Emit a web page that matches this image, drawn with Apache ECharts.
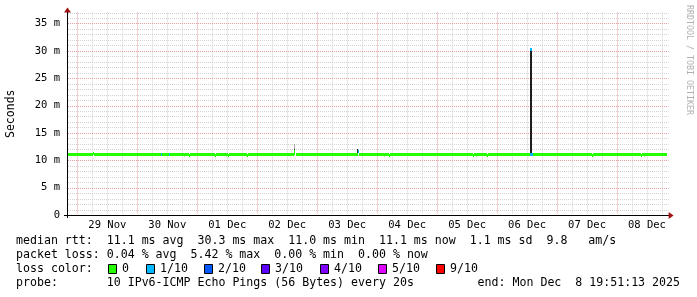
<!DOCTYPE html>
<html><head><meta charset="utf-8">
<script src="https://cdn.jsdelivr.net/npm/echarts@6/dist/echarts.min.js"></script>
<style>html,body{margin:0;padding:0;background:#fff}#c{width:697px;height:297px}</style>
</head><body><div id="c"></div>
<script>
// x values are hours since 2025-11-28 00:00
const startHour = 19.854;   // Nov 28 19:51:13
const endHour = 259.854;    // Dec 08 19:51:13
const dayTicks = [24, 48, 72, 96, 120, 144, 168, 192, 216, 240];
const sixHourTicks = [30, 36, 42, 54, 60, 66, 78, 84, 90, 102, 108, 114, 126, 132, 138, 150, 156, 162, 174, 180, 186, 198, 204, 210, 222, 228, 234, 246, 252, 258];
const dayLabelHours = [36, 60, 84, 108, 132, 156, 180, 204, 228, 252];
const dayLabels = ['29 Nov', '30 Nov', '01 Dec', '02 Dec', '03 Dec', '04 Dec', '05 Dec', '06 Dec', '07 Dec', '08 Dec'];
const yMajor = [0, 5, 10, 15, 20, 25, 30, 35];
const yMinor = [1, 2, 3, 4, 6, 7, 8, 9, 11, 12, 13, 14, 16, 17, 18, 19, 21, 22, 23, 24, 26, 27, 28, 29, 31, 32, 33, 34, 36, 37];

// median rtt (ms) segments, with loss (pings lost of 10)
const medianFrom = [19.854, 30.2, 30.6, 57.6, 58.0, 60.5, 60.9, 68.6, 69.0, 79.0, 79.4, 84.2, 84.6, 91.8, 92.2, 110.6, 110.8, 111.5, 135.9, 136.2, 136.6, 148.6, 149.0, 182.2, 182.6, 187.8, 188.2, 205.0, 205.3, 206.2, 229.8, 230.2, 249.8, 250.2];
const medianTo   = [30.2, 30.6, 57.6, 58.0, 60.5, 60.9, 68.6, 69.0, 79.0, 79.4, 84.2, 84.6, 91.8, 92.2, 110.6, 110.8, 111.2, 135.9, 136.2, 136.6, 148.6, 149.0, 182.2, 182.6, 187.8, 188.2, 205.0, 206.2, 205.8, 229.8, 230.2, 249.8, 250.2, 259.854];
const medianRtt  = [11.1, 11.3, 11.1, 11.1, 11.1, 11.1, 11.1, 10.9, 11.1, 10.9, 11.1, 10.9, 11.1, 10.9, 11.1, 11.2, 11.6, 11.1, 11.1, 11.6, 11.1, 10.9, 11.1, 10.9, 11.1, 10.9, 11.1, 11.1, 30.3, 11.1, 10.9, 11.1, 10.9, 11.1];
const medianLoss = [0, 0, 0, 1, 0, 1, 0, 0, 0, 0, 0, 0, 0, 0, 0, 0, 0, 0, 0, 1, 0, 0, 0, 0, 0, 0, 0, 1, 1, 0, 0, 0, 0, 0];

// smoke (ping spread) segments
const smokeFrom = [110.6, 110.9, 135.9, 205.05];
const smokeTo   = [110.9, 111.1, 136.2, 205.85];
const smokeLow  = [11.0, 12.0, 11.0, 11.1];
const smokeHigh = [12.0, 13.0, 12.0, 30.3];
const smokeDensity = [9, 3, 9, 10];

const lossLevels = [0, 1, 2, 3, 4, 5, 9];
const lossLegend = ['0', '1/10', '2/10', '3/10', '4/10', '5/10', '9/10'];
const lossColors = ['#26ff00', '#00b8ff', '#0059ff', '#5e00ff', '#7e00ff', '#dd00ff', '#ff0000'];

const statLines = [
  'median rtt:  11.1 ms avg  30.3 ms max  11.0 ms min  11.1 ms now  1.1 ms sd  9.8   am/s',
  'packet loss: 0.04 % avg  5.42 % max  0.00 % min  0.00 % now',
  'loss color:',
  'probe:       10 IPv6-ICMP Echo Pings (56 Bytes) every 20s'
];
const endText = 'end: Mon Dec  8 19:51:13 2025';

const FONT = '"DejaVu Sans Mono", monospace';
const MAJOR = '#eaa0a0', MINOR = '#d2d2d2';
function lossColor(l) { const i = lossLevels.indexOf(l); return lossColors[i >= 0 ? i : lossColors.length - 1]; }
function smokeColor(d) { const g = Math.round(230 - d * 20); return 'rgb(' + g + ',' + g + ',' + g + ')'; }

const medianData = medianFrom.map((f, i) => [f, medianTo[i], medianRtt[i], medianLoss[i]]);
const smokeData = smokeFrom.map((f, i) => [f, smokeTo[i], smokeLow[i], smokeHigh[i], smokeDensity[i]]);

// grid line data: [x, y, orientation(0 = vertical, 1 = horizontal), major(1) / minor(0)]
const gridData = [].concat(
  sixHourTicks.map(h => [h, 0, 0, 0]),
  yMinor.map(v => [startHour, v, 1, 0]),
  dayTicks.map(h => [h, 0, 0, 1]),
  yMajor.filter(v => v > 0).map(v => [startHour, v, 1, 1])
);

const chart = echarts.init(document.getElementById('c'), null, { renderer: 'canvas' });
const option = {
  animation: false,
  backgroundColor: '#ffffff',
  grid: { left: 67, right: 30.4, top: 12.5, bottom: 82, outerBoundsMode: 'none', containLabel: false },
  xAxis: { type: 'value', min: startHour, max: endHour, position: 'bottom', z: 10,
    axisLine: { show: true, onZero: false, lineStyle: { color: '#000', width: 1 } },
    axisTick: { show: false },
    axisLabel: { show: true, customValues: dayLabelHours, margin: 5,
      fontFamily: FONT, fontSize: 10.5, color: '#000',
      formatter: v => dayLabels[dayLabelHours.indexOf(Math.round(v))] || '' },
    splitLine: { show: false } },
  yAxis: { type: 'value', min: 0, max: 37, position: 'left', z: 10,
    name: 'Seconds', nameLocation: 'middle', nameGap: 50,
    nameTextStyle: { fontFamily: FONT, fontSize: 11.5, color: '#000' },
    axisLine: { show: true, lineStyle: { color: '#000', width: 1 } },
    axisTick: { show: false },
    axisLabel: { show: true, customValues: yMajor, margin: 7, fontFamily: FONT, fontSize: 10.5, color: '#000',
      formatter: v => v === 0 ? '0' : v + ' m' },
    splitLine: { show: false } },
  series: [
    { type: 'custom', name: 'grid', z: 1, silent: true, data: gridData, clip: false,
      renderItem: (params, api) => {
        const cs = params.coordSys;
        const p = api.coord([api.value(0), api.value(1)]);
        const color = api.value(3) ? MAJOR : MINOR;
        let shape;
        if (api.value(2) === 0) {
          const x = Math.round(p[0]) + 0.5;
          shape = { x1: x, y1: cs.y, x2: x, y2: cs.y + cs.height - 1 };
        } else {
          const y = Math.round(p[1]) + 0.5;
          shape = { x1: cs.x + 1, y1: y, x2: cs.x + cs.width + 2, y2: y };
        }
        return { type: 'line', shape: shape, style: { stroke: color, lineWidth: 1, lineDash: [1, 1] } };
      } },
    { type: 'custom', name: 'smoke', z: 3, data: smokeData, clip: true,
      renderItem: (params, api) => {
        const a = api.coord([api.value(0), api.value(3)]);
        const b = api.coord([api.value(1), api.value(2)]);
        const x1 = Math.round(a[0]), x2 = Math.max(Math.round(b[0]), x1 + 1);
        const y1 = Math.round(a[1]), y2 = Math.round(b[1]);
        return { type: 'rect', shape: { x: x1, y: y1, width: x2 - x1, height: y2 - y1 },
          style: { fill: smokeColor(api.value(4)) } };
      } },
    { type: 'custom', name: 'median', z: 4, data: medianData, clip: true,
      renderItem: (params, api) => {
        const a = api.coord([api.value(0), api.value(2)]);
        const b = api.coord([api.value(1), api.value(2)]);
        const x1 = Math.round(a[0]), x2 = Math.max(Math.round(b[0]), x1 + 1);
        const y = Math.round(a[1] - 1.5);
        return { type: 'rect', shape: { x: x1, y: y, width: x2 - x1, height: 3 },
          style: { fill: lossColor(api.value(3)) } };
      } }
  ]
};
chart.setOption(option);

// decorations: arrows, texts, legend
const xEnd = chart.convertToPixel({ xAxisIndex: 0 }, endHour);
const xStart = chart.convertToPixel({ xAxisIndex: 0 }, startHour);
const y0 = chart.convertToPixel({ yAxisIndex: 0 }, 0);
const yTop = chart.convertToPixel({ yAxisIndex: 0 }, 37);
const graphics = [];
graphics.push({ type: 'line', shape: { x1: xEnd, y1: y0 + 0.5, x2: xEnd + 3, y2: y0 + 0.5 }, style: { stroke: '#000', lineWidth: 1 } });
graphics.push({ type: 'polygon', shape: { points: [[xEnd + 2, y0 - 3], [xEnd + 7, y0 + 0.5], [xEnd + 2, y0 + 4]] }, style: { fill: '#a01010' } });
graphics.push({ type: 'polygon', shape: { points: [[xStart - 3, yTop], [xStart + 0.5, yTop - 5], [xStart + 4, yTop]] }, style: { fill: '#a01010' } });
graphics.push({ type: 'line', shape: { x1: xStart - 3, y1: y0 + 0.5, x2: xStart, y2: y0 + 0.5 }, style: { stroke: '#000', lineWidth: 1 } });
graphics.push({ type: 'line', shape: { x1: xStart + 0.5, y1: y0, x2: xStart + 0.5, y2: y0 + 3 }, style: { stroke: '#000', lineWidth: 1 } });
graphics.push({ type: 'text', x: 689, y: 5, rotation: -Math.PI / 2,
  style: { text: 'RRDTOOL / TOBI OETIKER', fontFamily: FONT, fontSize: 8.3, fill: '#b0b0b0', align: 'left', verticalAlign: 'middle' } });
const rowY = [241, 255, 269, 283];
statLines.forEach((t, i) => {
  graphics.push({ type: 'text', x: 16, y: rowY[i],
    style: { text: t, fontFamily: FONT, fontSize: 11.6, fill: '#000', align: 'left', verticalAlign: 'middle' } });
});
graphics.push({ type: 'text', x: 680, y: rowY[3],
  style: { text: endText, fontFamily: FONT, fontSize: 11.6, fill: '#000', align: 'right', verticalAlign: 'middle' } });
const boxX = [108, 146, 204, 261, 320, 378, 436];
lossLegend.forEach((t, i) => {
  graphics.push({ type: 'rect', shape: { x: boxX[i] + 0.5, y: rowY[2] - 4.5, width: 8, height: 9 },
    style: { fill: lossColors[i], stroke: '#000', lineWidth: 1 } });
  graphics.push({ type: 'text', x: boxX[i] + 14, y: rowY[2],
    style: { text: t, fontFamily: FONT, fontSize: 11.6, fill: '#000', align: 'left', verticalAlign: 'middle' } });
});
chart.setOption({ graphic: graphics });
</script></body></html>
